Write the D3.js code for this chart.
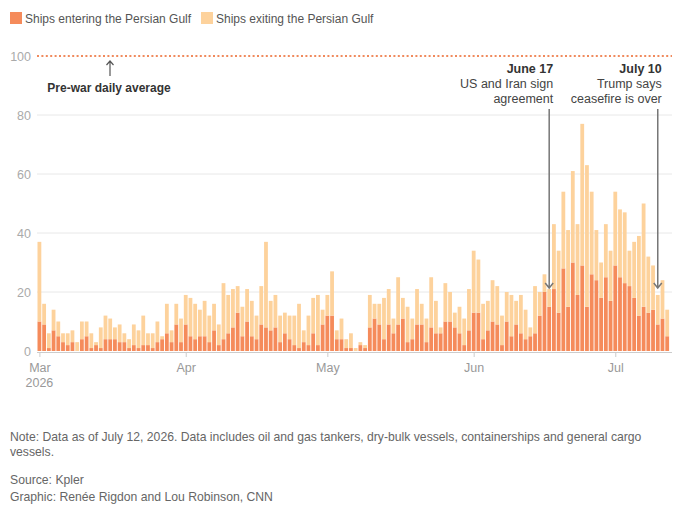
<!DOCTYPE html>
<html>
<head>
<meta charset="utf-8">
<script src="https://cdn.jsdelivr.net/npm/d3@7"></script>
<style>
  body { margin: 0; background: #fff; }
  svg { font-family: "Liberation Sans", Arial, sans-serif; }
</style>
</head>
<body>
<figure id="chart" style="margin:0"></figure>
<script>
// Daily ship counts, Mar 1 - Jul 12, 2026
const startDate = new Date(Date.UTC(2026, 2, 1));
const endDate = new Date(Date.UTC(2026, 6, 12));

const entering = [
  10, 9, 1, 7, 5, 3, 2, 3, 0, 4, 5, 1, 2, 1, 4, 4, 4, 3, 3, 1, 2, 1, 2, 2, 1, 3, 4, 6, 3, 9, 3,
  9, 5, 4, 5, 5, 3, 7, 2, 4, 6, 8, 13, 5, 10, 5, 4, 9, 8, 7, 8, 3, 6, 4, 2, 1, 3, 2, 6, 2, 9,
  12, 12, 4, 4, 1, 1, 0, 2, 1, 8, 11, 9, 4, 9, 6, 9, 11, 3, 4, 9, 9, 3, 8, 6, 6, 10, 10, 8, 6, 2, 7,
  13, 13, 4, 7, 10, 9, 2, 10, 5, 9, 6, 4, 5, 6, 12, 20, 15, 21, 13, 28, 15, 30, 19, 29, 15, 26, 24, 18, 25, 17,
  29, 25, 23, 22, 18, 12, 15, 13, 14, 9, 11, 5
];
const exiting = [
  27, 7, 5, 7, 5, 3, 4, 4, 3, 6, 5, 5, 1, 7, 8, 7, 4, 6, 3, 3, 7, 6, 10, 4, 5, 7, 1, 10, 4, 7, 8,
  10, 13, 12, 9, 12, 9, 9, 7, 19, 13, 13, 9, 10, 11, 12, 8, 13, 29, 10, 11, 9, 7, 8, 10, 15, 4, 10, 12, 17, 5,
  7, 15, 3, 7, 3, 5, 1, 1, 1, 11, 5, 7, 14, 12, 5, 16, 7, 12, 7, 12, 7, 8, 17, 11, 2, 13, 10, 5, 9, 9, 14,
  21, 18, 12, 10, 14, 13, 10, 10, 14, 8, 13, 10, 3, 16, 8, 6, 6, 22, 21, 26, 26, 31, 24, 48, 48, 28, 17, 12, 18, 17,
  25, 23, 24, 12, 19, 27, 35, 19, 15, 10, 13, 9
];

const seriesNames = ["Ships entering the Persian Gulf", "Ships exiting the Persian Gulf"];
const yTicks = [0, 20, 40, 60, 80, 100];
const preWarAverage = 100;

const annotations = [
  { date: new Date(Date.UTC(2026, 5, 17)), title: "June 17", lines: ["US and Iran sign", "agreement"] },
  { date: new Date(Date.UTC(2026, 6, 10)), title: "July 10", lines: ["Trump says", "ceasefire is over"] }
];

const notes = [
  "Note: Data as of July 12, 2026. Data includes oil and gas tankers, dry-bulk vessels, containerships and general cargo",
  "vessels."
];
const credits = ["Source: Kpler", "Graphic: Renée Rigdon and Lou Robinson, CNN"];

const colors = ["#f58b5b", "#fdd29c"];

const width = 678, height = 517;
const dates = d3.utcDay.range(startDate, d3.utcDay.offset(endDate, 1));
const rows = dates.map((d, i) => ({ date: d, entering: entering[i], exiting: exiting[i] }));

const svg = d3.select("figure#chart")
  .append("svg")
  .attr("width", width)
  .attr("height", height);

// Scales
const x = d3.scaleUtc()
  .domain([startDate, endDate])
  .range([39.4, 667.2]);
const barW = 3.8;
const y = d3.scaleLinear()
  .domain([0, 100])
  .range([351, 56]);

// Legend
const legend = svg.append("g").attr("class", "legend");
const legendX = [10, 201];
seriesNames.forEach((name, i) => {
  legend.append("rect")
    .attr("x", legendX[i]).attr("y", 12)
    .attr("width", 12).attr("height", 12)
    .attr("fill", colors[i]);
  legend.append("text")
    .attr("x", legendX[i] + 15).attr("y", 22.5)
    .attr("font-size", 12)
    .attr("fill", "#555")
    .text(name);
});

// Y axis - gridlines and labels
const grid = svg.append("g").attr("class", "grid");
grid.selectAll("line")
  .data(yTicks.filter(t => t > 0 && t < 100))
  .enter()
  .append("line")
  .attr("x1", 37).attr("x2", 672)
  .attr("y1", d => y(d)).attr("y2", d => y(d))
  .attr("stroke", "#e8e8e8");
grid.selectAll("text")
  .data(yTicks)
  .enter()
  .append("text")
  .attr("x", 31)
  .attr("y", d => y(d) + 4.5)
  .attr("text-anchor", "end")
  .attr("font-size", 12.5)
  .attr("fill", "#aaa")
  .text(d => d);

// Stacked bars
const stack = d3.stack().keys(["entering", "exiting"]);
const layers = stack(rows);
svg.append("g").attr("class", "bars")
  .selectAll("g")
  .data(layers)
  .enter()
  .append("g")
  .attr("fill", (d, i) => colors[i])
  .selectAll("rect")
  .data(d => d)
  .enter()
  .append("rect")
  .attr("x", d => x(d.data.date) - barW / 2)
  .attr("y", d => y(d[1]))
  .attr("width", barW)
  .attr("height", d => y(d[0]) - y(d[1]));

// Pre-war average line
svg.append("line")
  .attr("x1", 37).attr("x2", 672)
  .attr("y1", y(preWarAverage)).attr("y2", y(preWarAverage))
  .attr("stroke", "#f08a5d")
  .attr("stroke-width", 2)
  .attr("stroke-dasharray", "2,2.4");

svg.append("path")
  .attr("d", "M110,76V61M106.5,65L110,61L113.5,65")
  .attr("fill", "none")
  .attr("stroke", "#555")
  .attr("stroke-width", 1.2);
svg.append("text")
  .attr("x", 109).attr("y", 92)
  .attr("text-anchor", "middle")
  .attr("font-size", 12)
  .attr("font-weight", 600)
  .attr("fill", "#333")
  .text("Pre-war daily average");

// X axis
const xAxis = svg.append("g").attr("class", "xAxis")
  .attr("transform", "translate(0,352)")
  .call(d3.axisBottom(x)
    .ticks(d3.utcMonth.every(1))
    .tickSize(5)
    .tickFormat(d3.utcFormat("%b")));
xAxis.select(".domain").attr("d", "M37,0.5H672").attr("stroke", "#ccc");
xAxis.selectAll(".tick line").attr("stroke", "#ccc");
xAxis.selectAll(".tick text")
  .attr("dy", null).attr("y", 20)
  .attr("font-family", "Liberation Sans, Arial, sans-serif")
  .attr("font-size", 12.5)
  .attr("fill", "#999");
svg.append("text")
  .attr("x", x(startDate)).attr("y", 387)
  .attr("text-anchor", "middle")
  .attr("font-size", 12.5)
  .attr("fill", "#999")
  .text("2026");

// Annotations
annotations.forEach(a => {
  const cx = x(a.date);
  const tx = cx + 4;
  const g = svg.append("g").attr("class", "annotation");
  g.append("text")
    .attr("x", tx).attr("y", 73)
    .attr("text-anchor", "end")
    .attr("font-size", 12.5)
    .attr("font-weight", 700)
    .attr("fill", "#333")
    .text(a.title);
  a.lines.forEach((l, i) => {
    g.append("text")
      .attr("x", tx).attr("y", 88 + i * 15)
      .attr("text-anchor", "end")
      .attr("font-size", 12.5)
      .attr("fill", "#444")
      .text(l);
  });
  g.append("path")
    .attr("d", `M${cx},109V288M${cx - 4},283L${cx},288L${cx + 4},283`)
    .attr("fill", "none")
    .attr("stroke", "#777")
    .attr("stroke-width", 1.5);
});

// Notes
const foot = svg.append("g").attr("class", "notes")
  .attr("font-size", 12.2)
  .attr("fill", "#666");
notes.forEach((n, i) => {
  foot.append("text").attr("x", 10).attr("y", 441 + i * 15).text(n);
});
credits.forEach((n, i) => {
  foot.append("text").attr("x", 10).attr("y", 484 + i * 17).text(n);
});
</script>
</body>
</html>
